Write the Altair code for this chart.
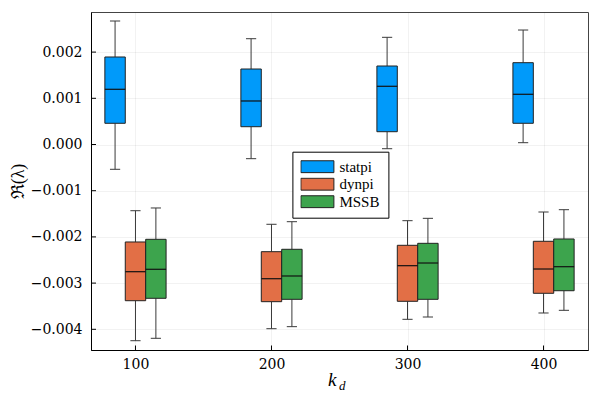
import altair as alt
import pandas as pd

ks = [100, 200, 300, 400]
series = ["statpi", "dynpi", "MSSB"]
colors = ["#009AFA", "#E26F46", "#3DA44D"]
offsets = [-15, 0, 15]

statpi_low = [-0.000537, -0.000307, -0.000091, 0.000039]
statpi_q1 = [0.000459, 0.000385, 0.000277, 0.000459]
statpi_med = [0.001195, 0.000942, 0.001260, 0.001087]
statpi_q3 = [0.001894, 0.001634, 0.001699, 0.001771]
statpi_high = [0.002673, 0.002290, 0.002320, 0.002478]

dynpi_low = [-0.004247, -0.003987, -0.003784, -0.003647]
dynpi_q1 = [-0.003381, -0.003402, -0.003394, -0.003221]
dynpi_med = [-0.002753, -0.002905, -0.002623, -0.002695]
dynpi_q3 = [-0.002110, -0.002320, -0.002182, -0.002095]
dynpi_high = [-0.001433, -0.001727, -0.001649, -0.001461]

mssb_low = [-0.004195, -0.003943, -0.003734, -0.003589]
mssb_q1 = [-0.003329, -0.003351, -0.003351, -0.003165]
mssb_med = [-0.002701, -0.002846, -0.002565, -0.002645]
mssb_q3 = [-0.002052, -0.002268, -0.002139, -0.002045]
mssb_high = [-0.001374, -0.001671, -0.001598, -0.001411]

xticks = [100, 200, 300, 400]
yticks = [-0.004, -0.003, -0.002, -0.001, 0.0, 0.001, 0.002]

stats = {
    "statpi": (statpi_low, statpi_q1, statpi_med, statpi_q3, statpi_high),
    "dynpi": (dynpi_low, dynpi_q1, dynpi_med, dynpi_q3, dynpi_high),
    "MSSB": (mssb_low, mssb_q1, mssb_med, mssb_q3, mssb_high),
}
rows = []
for s, off in zip(series, offsets):
    lo, q1, md, q3, hi = stats[s]
    for i, k in enumerate(ks):
        rows.append(dict(series=s, k=k, off=off, low=lo[i], q1=q1[i],
                         med=md[i], q3=q3[i], high=hi[i]))
df = pd.DataFrame(rows)

FONT = "Liberation Serif"
TICKFONT = "DejaVu Serif"
xscale = alt.Scale(domain=[67.3, 432.7], nice=False, zero=False)
yscale = alt.Scale(domain=[-0.004448, 0.002868], nice=False, zero=False)
cscale = alt.Scale(domain=series, range=colors)

xaxis = alt.Axis(values=xticks, format="d", title=None, grid=True, ticks=False,
                 labelFont=TICKFONT, labelFontSize=14, labelColor="#000",
                 labelPadding=7, domainColor="#000")
yaxis = alt.Axis(values=yticks, title="ℜ(λ)", grid=True, ticks=False,
                 labelFont=TICKFONT, labelFontSize=14, labelColor="#000",
                 labelPadding=9, domainColor="#000", titleAngle=270,
                 labelExpr="(datum.value < -0.0000001 ? '\u2212' : '') + format(abs(datum.value), '.3f')",
                 titleFont=FONT, titleX=-73, titleY=169, titleAlign="center",
                 titleBaseline="middle", titleFontSize=18, titleFontWeight="normal")


def X(f):
    return alt.X(f, scale=xscale, axis=xaxis)


def Y(f):
    return alt.Y(f, scale=yscale, axis=yaxis)


base = alt.Chart(df).transform_calculate(
    xc="datum.k + datum.off",
    xl="datum.k + datum.off - 7.5",
    xr="datum.k + datum.off + 7.5",
    cl="datum.k + datum.off - 3.75",
    cr="datum.k + datum.off + 3.75",
)

wcol = "#3a3a3a"
whisk_lo = base.mark_rule(color=wcol, strokeWidth=1).encode(
    x=X("xc:Q"), y=Y("low:Q"), y2="q1:Q")
whisk_hi = base.mark_rule(color=wcol, strokeWidth=1).encode(
    x=X("xc:Q"), y=Y("q3:Q"), y2="high:Q")
cap_lo = base.mark_rule(color=wcol, strokeWidth=1).encode(
    x=X("cl:Q"), x2="cr:Q", y=Y("low:Q"))
cap_hi = base.mark_rule(color=wcol, strokeWidth=1).encode(
    x=X("cl:Q"), x2="cr:Q", y=Y("high:Q"))
boxes = base.mark_bar(stroke="#222", strokeWidth=1, opacity=1).encode(
    x=X("xl:Q"), x2="xr:Q", y=Y("q1:Q"), y2="q3:Q",
    color=alt.Color("series:N", scale=cscale, title=None,
                    legend=alt.Legend(orient="none", legendX=201.4, legendY=139.7)),
)
medians = base.mark_rule(color="#111", strokeWidth=1.2).encode(
    x=X("xl:Q"), x2="xr:Q", y=Y("med:Q"))

ytick_marks = alt.Chart(pd.DataFrame({"v": yticks})).mark_rule(color="#000", strokeWidth=1).encode(
    y=Y("v:Q"), x=alt.value(0), x2=alt.value(5)
)
xtick_marks = alt.Chart(pd.DataFrame({"v": xticks})).mark_rule(color="#000", strokeWidth=1).encode(
    x=X("v:Q"), y=alt.value(338), y2=alt.value(333.5)
)

k_text = alt.Chart(pd.DataFrame({"t": ["k"]})).mark_text(
    font=FONT, fontSize=19, fontStyle="italic", align="left", baseline="alphabetic"
).encode(text="t:N", x=alt.value(237), y=alt.value(374))
d_text = alt.Chart(pd.DataFrame({"t": ["d"]})).mark_text(
    font=FONT, fontSize=13, fontStyle="italic", align="left", baseline="alphabetic"
).encode(text="t:N", x=alt.value(248), y=alt.value(378))

chart = alt.layer(
    whisk_lo, whisk_hi, cap_lo, cap_hi, boxes, medians, ytick_marks, xtick_marks, k_text, d_text
).properties(
    width=497, height=338, autosize="none",
    padding={"left": 83, "top": 4, "right": 4, "bottom": 42},
).configure_view(
    stroke="#444", strokeWidth=1
).configure_axis(
    gridColor="#000", gridOpacity=0.1, gridWidth=0.5,
    domainWidth=1,
).configure_legend(
    labelFont=FONT, labelFontSize=15, labelColor="#000",
    strokeColor="#000", fillColor="#fff", padding=8,
    symbolType="M-1,-0.36H1V0.36H-1Z", symbolSize=1089,
    symbolStrokeColor="#222", symbolStrokeWidth=1, symbolOpacity=1,
    labelOffset=5, rowPadding=2.5, clipHeight=14, cornerRadius=0,
)

chart.save("out.html", embed_options={"renderer": "svg", "actions": False})
